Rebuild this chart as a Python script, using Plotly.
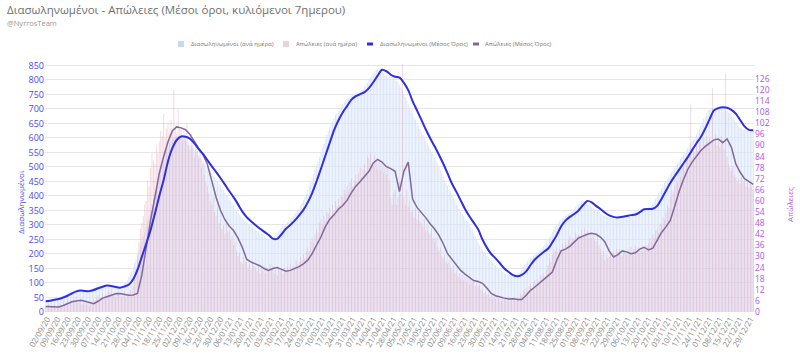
import pandas as pd
import plotly.graph_objects as go

START = "2020-09-01"

# Daily intubated patients (bars, left axis)
intubated_daily = [
39,40,41, 42,43,44, 46,47,49, 50,52,54, 57,59,62, 65,67,69, 71,73,73, 74,73,72, 71,72,73, 73,74,75,
77,79,81, 83,85,86, 88,90,91, 92,90,89, 89,88,86, 85,84,84, 85,86,87, 89,91,93, 98,104,110, 120,130,140,
155,170,182, 200,215,228, 245,262,275, 295,315,332, 352,372,392, 412,430,448, 470,490,510, 532,548,560, 572,582,590, 597,600,604,
608,606,603, 602,600,597, 594,588,584, 577,570,565, 558,552,548, 540,533,527, 520,512,506, 498,492,486, 478,471,465, 457,450,443,
435,427,420, 412,405,399, 390,382,375, 366,358,350, 342,335,330, 323,318,315, 310,305,302, 297,293,290, 285,281,279, 274,270,268,
262,258,255, 250,249,251, 255,260,265, 272,279,284, 290,295,298, 304,309,313, 320,326,331, 338,344,350, 358,367,375, 386,397,407,
420,434,447, 460,475,490, 505,520,535, 550,565,579, 594,610,623, 636,648,657, 668,678,686, 694,702,708, 716,724,730, 735,739,743,
746,748,750, 753,755,757, 762,766,770, 778,785,790, 800,808,814, 822,830,836, 838,833,830, 826,822,818, 815,812,810, 810,809,806,
802,796,790, 782,774,766, 752,740,728, 716,705,696, 684,673,664, 652,641,631, 620,610,601, 591,582,573, 562,552,544, 533,522,513,
500,489,479, 466,454,444, 434,424,416, 405,395,386, 375,365,356, 347,338,331, 323,315,309, 300,292,284, 273,262,251, 240,231,222,
215,207,200, 195,190,185, 180,174,168, 162,156,150, 146,142,138, 134,130,127, 125,124,123, 124,126,128, 132,136,140, 147,155,162,
168,175,181, 186,190,195, 199,203,207, 211,214,218, 225,233,240, 248,257,265, 275,285,295, 302,308,315, 319,324,328, 331,335,338,
342,346,350, 356,362,368, 373,378,383, 384,381,378, 374,370,366, 362,358,355, 351,347,343, 340,336,333, 331,330,328, 327,326,326,
326,327,328, 329,330,331, 332,333,334, 335,335,336, 339,341,344, 347,351,354, 354,355,355, 355,356,357, 360,363,366, 374,382,390,
399,409,418, 427,436,445, 453,460,468, 475,483,490, 497,505,512, 519,527,534, 542,550,558, 566,574,582, 589,596,603, 613,622,632,
643,654,665, 675,685,695, 698,700,703, 704,705,706, 706,705,704, 702,699,697, 693,688,684, 677,669,662, 655,647,640, 636,632,628,
628,627,627, 626,626,627,
626]

# Daily deaths (bars, right axis)
deaths_daily = [
3,2,4, 2,3,3, 4,2,3, 5,4,3, 6,4,5, 7,5,6, 5,7,6, 8,5,6, 6,4,5, 5,4,5,
3,6,5, 7,6,8, 9,7,8, 10,8,9, 9,11,10, 12,9,10, 8,11,10, 9,8,10, 11,8,9, 10,12,9,
14,18,24, 30,38,45, 48,52,58, 60,71,68, 78,86,82, 80,90,86, 92,98,95, 107,94,99, 102,96,104, 98,120,101,
96,110,99, 100,93,97, 94,102,90, 88,96,91, 84,92,87, 83,88,78, 80,74,70, 68,64,60, 58,62,54, 52,56,48,
50,45,47, 42,48,43, 44,39,41, 36,38,33, 30,32,27, 26,30,27, 28,24,26, 23,27,25, 24,22,25, 21,24,22,
25,21,24, 22,26,23, 25,21,23, 20,24,22, 23,21,24, 22,25,23, 26,22,25, 24,28,25, 27,30,28, 31,29,33,
35,33,38, 40,37,42, 45,43,48, 50,47,52, 49,54,53, 56,52,58, 55,60,57, 61,58,63, 62,66,64, 68,65,70,
72,68,71, 74,70,75, 78,73,77, 80,76,84, 83,86,80, 79,85,82, 77,82,76, 80,75,78, 74,79,71, 62,58,64,
66,58,62, 70,64,150, 62,58,66, 57,60,54, 55,51,56, 50,54,49, 48,46,50, 44,47,43, 42,45,40, 38,40,35,
33,35,30, 29,31,27, 26,28,24, 23,25,21, 22,19,21, 18,20,17, 19,16,18, 15,18,16, 17,14,16, 14,15,12,
12,10,11, 9,10,8, 9,7,8, 7,9,7, 8,6,7, 7,8,6, 8,6,7, 6,8,6, 8,7,10, 9,12,11,
13,11,14, 15,13,16, 17,15,18, 16,20,19, 21,19,23, 25,29,27, 31,34,33, 35,32,34, 33,37,35, 38,36,39,
41,38,40, 39,43,41, 42,40,44, 41,45,42, 44,40,43, 40,42,39, 38,41,36, 34,31,33, 28,31,29, 30,32,29,
33,31,34, 32,34,31, 30,33,32, 31,34,32, 35,32,34, 36,33,35, 32,35,33, 35,33,36, 37,40,38, 42,40,44,
45,43,48, 47,51,50, 54,58,56, 62,66,64, 68,72,70, 76,73,78, 80,77,83, 82,86,112, 84,88,86, 90,87,91,
92,88,94, 90,95,92, 94,91,121, 92,96,90, 93,89,95, 92,88,129, 84,80,78, 76,79,74, 73,70,72, 69,73,70,
71,68,70, 67,70,68,
66]

# 7-day rolling averages, sampled every 3 days from START
intubated_avg = [
37,39,42,45,50,56,64,71,74,72,
72,76,82,87,91,90,86,84,88,94,
112,145,190,235,282,340,400,455,520,565,
593,605,604,598,582,562,545,524,503,483,
462,440,417,396,372,347,327,313,300,288,
277,266,253,252,268,287,300,315,333,352,
378,410,450,493,538,582,626,660,688,710,
732,744,751,758,772,792,815,835,830,818,
811,808,790,765,727,695,663,630,600,572,
543,512,478,443,415,385,355,330,308,285,
250,222,200,185,168,150,138,127,123,128,
140,162,181,195,207,218,240,265,295,315,
328,338,350,368,383,378,366,355,343,333,
328,326,328,331,334,336,344,354,355,356,
366,390,418,445,468,490,512,534,558,582,
603,632,665,695,703,706,704,697,684,662,
640,628,627]

deaths_avg = [
3.0,2.8,2.6,2.7,3.5,4.5,5.5,6.0,6.3,5.8,
5.0,4.5,5.8,7.5,8.2,9.0,9.8,10.0,9.5,9.0,
9.2,10.0,20.0,36.0,49.5,62.0,75.0,84.0,92.0,98.0,
100,99.5,98.5,96,92,88.5,85,80,71,62,
55,50,46.5,44,40,35,28.5,27,26,25,
23.5,22.5,23.5,24,23,22,22.5,23.5,24.5,26,
28,31.5,36,40.5,46,50,52.5,55.5,57.5,60.3,
64.5,68,70.5,73,76,80.5,82.5,81,78.5,77.5,
76,65,76,81,61,56.5,54,51,47.7,45,
41.5,37,31.5,28.5,25.5,22.5,20.5,18.5,17,16.5,
15.5,13,10,8.8,8,7.5,7,7.2,6.8,6.7,
9,11.7,13.5,15.5,17,19.5,21.6,28,33,34,
35.5,38,40,41,42,42.5,42,40.5,38,33,
29.7,31,33,32.5,31.5,32,34,35,33.5,34.5,
39,43,46,49.5,57,65,71.5,77,81,84.5,
87.3,89.5,91.5,93,93.5,91.5,93.5,89,80,75.5,
72,70.5,69]

left_ticks = list(range(0, 851, 50))
right_ticks = list(range(0, 127, 6))
tick_dates = pd.date_range("2020-09-02", "2021-12-29", freq="7D")
tick_labels = [d.strftime("%d/%m/%y") for d in tick_dates]

series_names = ["Διασωληνωμένοι (ανά ημέρα)", "Απώλειες (ανά ημέρα)",
                "Διασωληνωμένοι (Μέσος Όρος)", "Απώλειες (Μέσος Όρος)"]

C_IBAR = "rgb(218,229,249)"
C_DBAR = "rgba(228,160,186,0.42)"
C_ILINE = "#2f2fe0"
C_DLINE = "#80699c"
C_LEFT = "#4b4bf0"
C_RIGHT = "#b055f0"

days = pd.date_range(START, periods=len(intubated_daily), freq="D")
days_d = pd.date_range(START, periods=len(deaths_daily), freq="D")
avg_days_i = pd.date_range(START, periods=len(intubated_avg), freq="3D")
avg_days_d = pd.date_range(START, periods=len(deaths_avg), freq="3D")

FONT = "Open Sans"
fig = go.Figure()
fig.add_trace(go.Bar(x=days, y=intubated_daily, name=series_names[0],
                     marker=dict(color=C_IBAR, line=dict(width=0)), yaxis="y"))
fig.add_trace(go.Bar(x=days_d, y=deaths_daily, name=series_names[1],
                     marker=dict(color=C_DBAR, line=dict(width=0)), yaxis="y2"))
fig.add_trace(go.Scatter(x=avg_days_i, y=intubated_avg, name=series_names[2],
                         mode="lines", line=dict(color=C_ILINE, width=2, shape="spline", smoothing=0.8),
                         yaxis="y3"))
fig.add_trace(go.Scatter(x=avg_days_d, y=deaths_avg, name=series_names[3],
                         mode="lines", line=dict(color=C_DLINE, width=1.5), yaxis="y2"))

# compact legend drawn in paper coordinates (px -> paper)
PL, PW, PB, PH = 45, 709, 312, 248
def px(x):
    return (x - PL) / PW
def py(y):
    return (PB - y) / PH

shapes = []
annotations = []
LEG_Y = 44
legend_items = [
    (178, "square", "rgb(200,216,246)", 189, series_names[0]),
    (283, "square", "rgb(236,208,218)", 294, series_names[1]),
    (367, "line", C_ILINE, 378, series_names[2]),
    (473, "line", C_DLINE, 483, series_names[3]),
]
for x0, kind, col, tx, label in legend_items:
    h = 3 if kind == "square" else 1.5
    shapes.append(dict(type="rect", xref="paper", yref="paper",
                       x0=px(x0), x1=px(x0 + 6), y0=py(LEG_Y + h), y1=py(LEG_Y - h),
                       fillcolor=col, line=dict(width=0)))
    annotations.append(dict(text=label, xref="paper", yref="paper", x=px(tx), y=py(LEG_Y),
                            xanchor="left", yanchor="middle", showarrow=False,
                            font=dict(size=6, color="#777")))

annotations += [
    dict(text="Διασωληνωμένοι - Απώλειες (Μέσοι όροι, κυλιόμενοι 7ημερου)",
         xref="paper", yref="paper", x=px(5), y=py(10), xanchor="left", yanchor="middle",
         showarrow=False, font=dict(size=11.5, color="#6f6f6f")),
    dict(text="@NyrrosTeam", xref="paper", yref="paper", x=px(5), y=py(23),
         xanchor="left", yanchor="middle", showarrow=False, font=dict(size=7.5, color="#999")),
    dict(text="Διασωληνωμένοι", xref="paper", yref="paper", x=px(20), y=py(202),
         xanchor="center", yanchor="middle", textangle=-90, showarrow=False,
         font=dict(size=8, color=C_LEFT)),
    dict(text="Απώλειες", xref="paper", yref="paper", x=px(789), y=py(205),
         xanchor="center", yanchor="middle", textangle=-90, showarrow=False,
         font=dict(size=8, color=C_RIGHT)),
]

fig.update_layout(
    width=800, height=356,
    margin=dict(l=45, r=46, t=64, b=44, autoexpand=False),
    paper_bgcolor="white", plot_bgcolor="white",
    font=dict(family=FONT, color="#777"),
    barmode="overlay", bargap=0.35,
    showlegend=False,
    hovermode=False,
    xaxis=dict(type="date", range=["2020-08-31 12:00", "2021-12-31 12:00"],
               tickmode="array", tickvals=tick_dates, ticktext=tick_labels,
               tickangle=-60, tickfont=dict(size=8, color="#888"),
               showgrid=False, zeroline=False, showline=False, ticks="", automargin=False),
    yaxis=dict(range=[0, 855], tickmode="array", tickvals=left_ticks,
               tickfont=dict(size=9, color=C_LEFT), gridcolor="#e6e6e6", gridwidth=1,
               zeroline=False, showline=False, ticks="", automargin=False),
    yaxis2=dict(range=[0, 134], overlaying="y", side="right", tickmode="array",
                tickvals=right_ticks, tickfont=dict(size=8.5, color=C_RIGHT),
                showgrid=False, zeroline=False, showline=False, ticks="", automargin=False),
    yaxis3=dict(range=[0, 855], overlaying="y", visible=False),
    shapes=shapes,
    annotations=annotations,
)

fig.write_html("out.html",
               config={"displayModeBar": False, "staticPlot": True},
               post_script="document.body.style.margin='0';document.body.style.overflow='hidden';")
